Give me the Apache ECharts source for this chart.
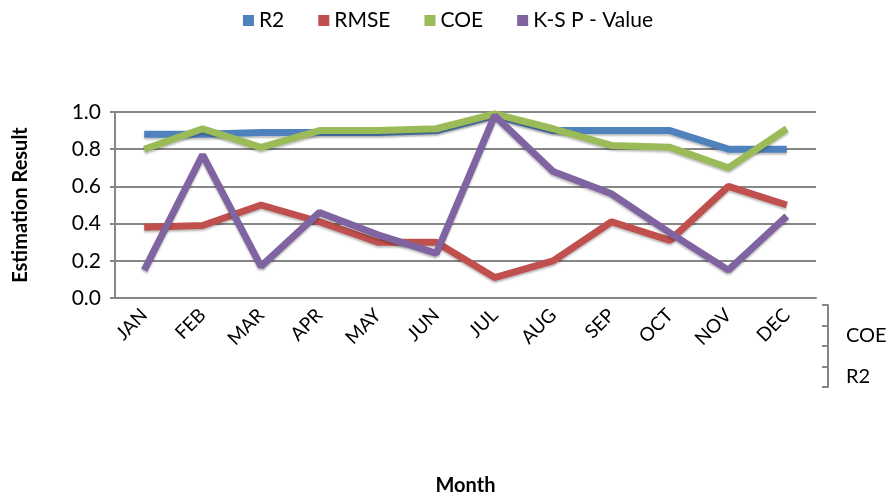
<!DOCTYPE html>
<html>
<head>
<meta charset="utf-8">
<title>Estimation Result</title>
<script src="https://cdn.jsdelivr.net/npm/echarts@6/dist/echarts.min.js"></script>
<style>
    html, body { margin: 0; padding: 0; background: #fff; }
    #main { width: 896px; height: 502px; }
</style>
</head>
<body>
<div id="main"></div>
<script>
// 月份
let months = ['JAN', 'FEB', 'MAR', 'APR', 'MAY', 'JUN', 'JUL', 'AUG', 'SEP', 'OCT', 'NOV', 'DEC'];
// 各指标数据
let r2Data = [0.88, 0.88, 0.89, 0.89, 0.89, 0.90, 0.98, 0.90, 0.90, 0.90, 0.80, 0.80];
let rmseData = [0.38, 0.39, 0.50, 0.41, 0.30, 0.30, 0.11, 0.20, 0.41, 0.31, 0.60, 0.50];
let coeData = [0.80, 0.91, 0.81, 0.90, 0.90, 0.91, 0.99, 0.91, 0.82, 0.81, 0.70, 0.91];
let ksData = [0.15, 0.77, 0.17, 0.46, 0.34, 0.24, 0.98, 0.68, 0.56, 0.35, 0.15, 0.44];
// 系列名称（深度轴）
let seriesNames = ['R2', 'RMSE', 'COE', 'K-S P - Value'];

let colors = ['#4F81BD', '#C0504D', '#9BBB59', '#8064A2'];
let fontName = 'Lato, "Open Sans", sans-serif';

// 初始化echarts实例
var myChart = echarts.init(document.getElementById('main'));

// 构造折线
function makeLine(name, data, color) {
    return {
        name: name,
        type: 'line',
        xAxisIndex: 0,
        yAxisIndex: 0,
        data: data,
        symbol: 'none',
        lineStyle: {
            width: 7,
            color: color,
            shadowColor: 'rgba(0,0,0,0.25)',
            shadowOffsetY: 2,
            shadowBlur: 2
        },
        itemStyle: { color: color }
    };
}

var option = {
    animation: false,
    textStyle: { fontFamily: fontName },
    legend: {
        top: 5,
        left: 'center',
        icon: 'rect',
        itemWidth: 11,
        itemHeight: 11,
        itemGap: 34,
        textStyle: { fontSize: 21, color: '#000', fontFamily: fontName },
        data: seriesNames
    },
    grid: [
        { left: 115, right: 80, top: 112, bottom: 204 },
        // 深度轴
        { left: 828, width: 6, top: 305, bottom: 115 }
    ],
    xAxis: [
        {
            type: 'category',
            gridIndex: 0,
            data: months,
            name: 'Month',
            nameLocation: 'middle',
            nameGap: 178,
            nameTextStyle: { fontSize: 20, fontWeight: 'bold', color: '#000', fontFamily: fontName },
            axisLine: { lineStyle: { color: '#868686', width: 2 } },
            axisTick: { show: false },
            axisLabel: { rotate: 45, fontSize: 19, color: '#000', margin: 14, fontFamily: fontName },
            splitLine: { show: false }
        },
        { type: 'value', gridIndex: 1, show: false }
    ],
    yAxis: [
        {
            type: 'value',
            gridIndex: 0,
            min: 0,
            max: 1,
            interval: 0.2,
            name: 'Estimation Result',
            nameLocation: 'middle',
            nameGap: 84,
            nameTextStyle: { fontSize: 20, fontWeight: 'bold', color: '#000', fontFamily: fontName },
            axisLine: { show: true, lineStyle: { color: '#868686', width: 2 } },
            axisTick: { show: true, length: 5, lineStyle: { color: '#868686', width: 2 } },
            axisLabel: {
                fontSize: 21,
                color: '#000',
                margin: 14,
                fontFamily: fontName,
                formatter: function (v) { return v.toFixed(1); }
            },
            splitLine: { lineStyle: { color: '#868686', width: 2 } }
        },
        {
            type: 'category',
            gridIndex: 1,
            position: 'right',
            data: seriesNames,
            axisLine: { show: true, lineStyle: { color: '#868686', width: 2 } },
            axisTick: { show: true, inside: true, interval: 0, length: 6, lineStyle: { color: '#868686', width: 2 } },
            axisLabel: { interval: 1, fontSize: 20, color: '#000', margin: 12, fontFamily: fontName },
            splitLine: { show: false }
        }
    ],
    series: [
        makeLine(seriesNames[0], r2Data, colors[0]),
        makeLine(seriesNames[1], rmseData, colors[1]),
        makeLine(seriesNames[2], coeData, colors[2]),
        makeLine(seriesNames[3], ksData, colors[3])
    ]
};
// 显示图表
myChart.setOption(option);
</script>
</body>
</html>
